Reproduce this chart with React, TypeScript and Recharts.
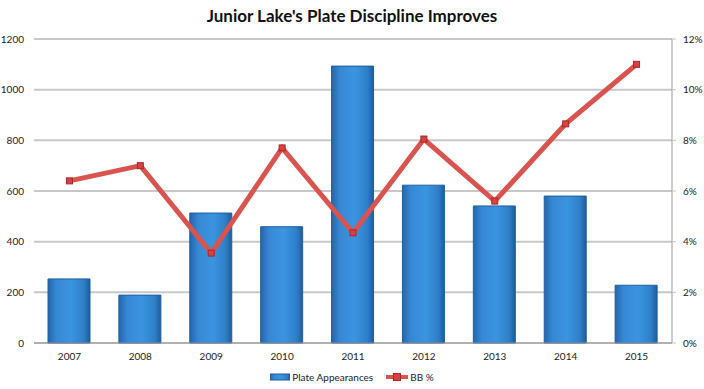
import { ComposedChart, Bar, Line, XAxis, YAxis, CartesianGrid, Legend } from 'recharts';

const years = ['2007', '2008', '2009', '2010', '2011', '2012', '2013', '2014', '2015'];
const plateAppearances = [253, 189, 513, 459, 1093, 623, 541, 580, 228];
const bbPct = [6.4, 7.0, 3.55, 7.7, 4.35, 8.05, 5.6, 8.65, 11.0];
const leftTicks = [0, 200, 400, 600, 800, 1000, 1200];
const rightTicks = [0, 2, 4, 6, 8, 10, 12];

const data = years.map((year, i) => ({
  year,
  pa: plateAppearances[i],
  bb: bbPct[i],
}));

const FONT = 'Lato, "Open Sans", sans-serif';

const SquareDot = (props: any) => {
  const { cx, cy } = props;
  if (cx == null || cy == null) return null;
  return (
    <rect x={cx - 3} y={cy - 3} width={6} height={6} fill="#d9403f" stroke="#a52a2a" strokeWidth={1} />
  );
};

const LegendContent = () => (
  <div style={{ display: 'flex', justifyContent: 'center', alignItems: 'center', fontFamily: FONT, fontSize: 10, color: '#222' }}>
    <svg width={20} height={8} style={{ marginRight: 2 }}>
      <rect x={0} y={1} width={20} height={6} fill="url(#barGrad)" stroke="#1f5f9e" strokeWidth={1} />
    </svg>
    <span style={{ marginRight: 13 }}>Plate Appearances</span>
    <svg width={22} height={8} style={{ marginRight: 2 }}>
      <line x1={0} y1={4} x2={22} y2={4} stroke="#d9534f" strokeWidth={4} />
      <rect x={7.5} y={0.5} width={7} height={7} fill="#d9403f" stroke="#a52a2a" strokeWidth={1} />
    </svg>
    <span>BB %</span>
  </div>
);

export default function App() {
  return (
    <div style={{ position: 'absolute', left: 0, top: 0, width: 704, height: 389, background: '#fff' }}>
      <div
        style={{
          position: 'absolute',
          top: 5,
          left: 0,
          width: 704,
          textAlign: 'center',
          fontFamily: FONT,
          fontWeight: 'bold',
          fontSize: 17,
          color: '#111',
        }}
      >
        Junior Lake's Plate Discipline Improves
      </div>
      <ComposedChart width={704} height={389} data={data} margin={{ top: 39, right: 0, left: 0, bottom: 14 }}>
        <defs>
          <linearGradient id="barGrad" x1="0" y1="0" x2="1" y2="0">
            <stop offset="0%" stopColor="#2366ad" />
            <stop offset="20%" stopColor="#3788d4" />
            <stop offset="55%" stopColor="#3b94e0" />
            <stop offset="85%" stopColor="#2f7fc7" />
            <stop offset="100%" stopColor="#1f5c9c" />
          </linearGradient>
        </defs>
        <CartesianGrid vertical={false} stroke="#c8c8c8" strokeWidth={2} yAxisId="left" />
        <XAxis
          dataKey="year"
          axisLine={{ stroke: '#999', strokeWidth: 1 }}
          tickLine={false}
          tick={{ fontSize: 10, fill: '#222', fontFamily: FONT }}
          tickMargin={4}
          height={20}
        />
        <YAxis
          yAxisId="left"
          domain={[0, 1200]}
          ticks={leftTicks}
          width={34}
          axisLine={false}
          tickLine={false}
          tickSize={6}
          tickMargin={4}
          tick={{ fontSize: 10, fill: '#222', fontFamily: FONT }}
        />
        <YAxis
          yAxisId="right"
          orientation="right"
          domain={[0, 12]}
          ticks={rightTicks}
          tickFormatter={(v) => `${v}%`}
          width={32}
          axisLine={{ stroke: '#999', strokeWidth: 1 }}
          tickLine={{ stroke: '#c8c8c8', strokeWidth: 1 }}
          tickSize={4}
          tickMargin={7}
          tick={{ fontSize: 10, fill: '#222', fontFamily: FONT, textAnchor: 'start' }}
        />
        <Bar
          yAxisId="left"
          dataKey="pa"
          name="Plate Appearances"
          fill="url(#barGrad)"
          stroke="#1f5f9e"
          strokeWidth={1}
          barSize={42}
          isAnimationActive={false}
        />
        <Line
          yAxisId="right"
          dataKey="bb"
          name="BB %"
          type="linear"
          stroke="#d9534f"
          strokeWidth={5}
          dot={<SquareDot />}
          activeDot={false}
          isAnimationActive={false}
        />
        <Legend verticalAlign="bottom" content={<LegendContent />} wrapperStyle={{ bottom: 6 }} />
      </ComposedChart>
    </div>
  );
}
